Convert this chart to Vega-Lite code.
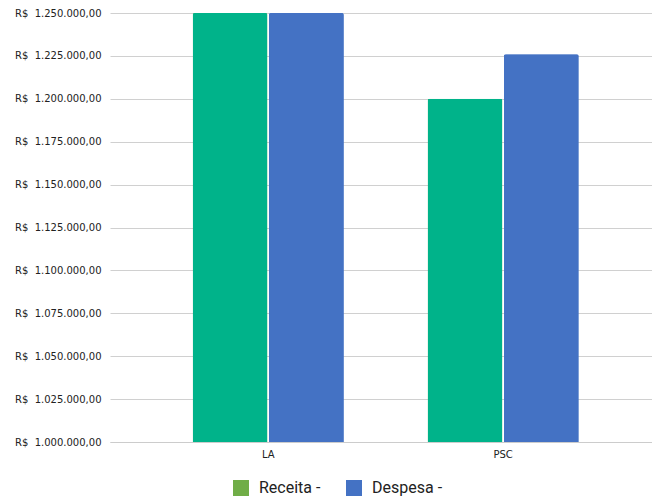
{
  "$schema": "https://vega.github.io/schema/vega-lite/v6.json",
  "width": 542,
  "height": 429,
  "autosize": {"type": "none"},
  "padding": {"left": 110, "top": 13, "right": 0, "bottom": 59},
  "background": "#ffffff",
  "config": {
    "locale": {"number": {"decimal": ",", "thousands": ".", "grouping": [3], "currency": ["R$ ", ""]}},
    "view": {"stroke": null}
  },
  "data": {
    "values": [
      {"partido": "LA", "serie": "Receita -", "valor": 1280000},
      {"partido": "LA", "serie": "Despesa -", "valor": 1280000},
      {"partido": "PSC", "serie": "Receita -", "valor": 1200000},
      {"partido": "PSC", "serie": "Despesa -", "valor": 1226000}
    ]
  },
  "encoding": {
    "x": {
      "field": "partido", "type": "nominal", "sort": ["LA", "PSC"],
      "scale": {"paddingInner": 0.357, "paddingOuter": 0.332, "align": 0.53},
      "axis": {"title": null, "labelAngle": 0, "domainColor": "#cccccc", "ticks": false, "labelFont": "DejaVu Sans", "labelFontSize": 10, "labelColor": "#222222", "labelPadding": 7}
    },
    "xOffset": {"field": "serie", "type": "nominal", "sort": ["Receita -", "Despesa -"], "scale": {"paddingInner": 0.02}},
    "y": {
      "field": "valor", "type": "quantitative",
      "scale": {"domain": [1000000, 1250000], "zero": false, "nice": false, "clamp": true},
      "axis": {
        "title": null,
        "values": [1000000, 1025000, 1050000, 1075000, 1100000, 1125000, 1150000, 1175000, 1200000, 1225000, 1250000],
        "format": ",.2f",
        "labelExpr": "'R$\u00a0\u00a0' + datum.label",
        "domain": false, "ticks": false,
        "gridColor": "#d0d0d0", "gridWidth": 1,
        "labelFont": "DejaVu Sans", "labelFontSize": 10, "labelColor": "#222222", "labelPadding": 9
      }
    }
  },
  "layer": [
    {
      "mark": {"type": "bar", "cornerRadiusTopLeft": 2, "cornerRadiusTopRight": 2},
      "encoding": {
        "color": {
          "field": "serie", "type": "nominal",
          "scale": {"domain": ["Receita -", "Despesa -"], "range": ["#70AD47", "#4472C4"]},
          "legend": {
            "title": null, "orient": "none", "direction": "horizontal",
            "legendX": 123, "legendY": 467,
            "symbolType": "square", "symbolSize": 256, "symbolStrokeWidth": 0,
            "labelFont": "Roboto", "labelFontSize": 16, "labelColor": "#222222", "labelOffset": 10,
            "columnPadding": 25
          }
        }
      }
    },
    {
      "mark": {"type": "bar", "cornerRadiusTopLeft": 2, "cornerRadiusTopRight": 2},
      "encoding": {
        "fill": {"field": "serie", "type": "nominal", "scale": {"domain": ["Receita -", "Despesa -"], "range": ["#00B38A", "#4472C4"]}, "legend": null}
      }
    }
  ]
}
